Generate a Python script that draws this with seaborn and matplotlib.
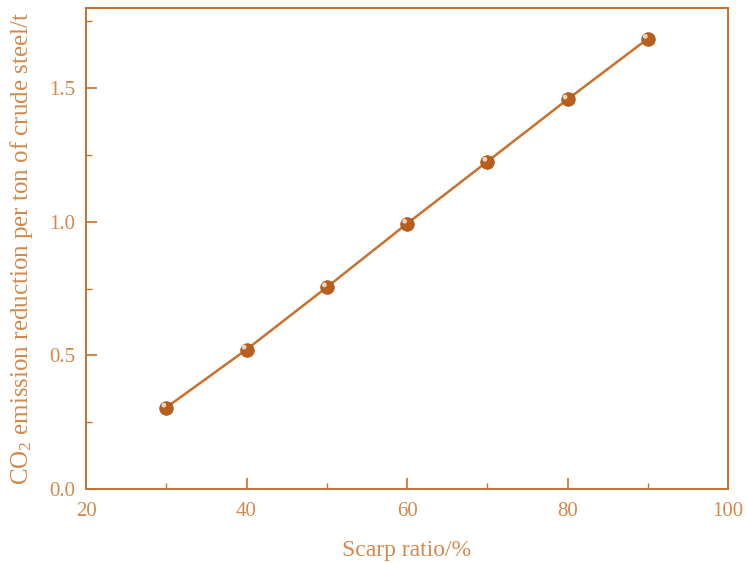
import numpy as np
import pandas as pd
import matplotlib
matplotlib.use("Agg")
import matplotlib.pyplot as plt
import seaborn as sns

# =========================
# DATA
# =========================
scrap_ratio = [30, 40, 50, 60, 70, 80, 90]
co2_reduction = [0.305, 0.522, 0.755, 0.993, 1.225, 1.458, 1.685]

x_ticks = [20, 40, 60, 80, 100]
y_ticks = [0.0, 0.5, 1.0, 1.5]

df = pd.DataFrame({"ratio": scrap_ratio, "co2": co2_reduction})

# =========================
# STYLE
# =========================
sns.set_style("ticks")
plt.rcParams["font.family"] = ["Liberation Serif", "DejaVu Serif"]
plt.rcParams["mathtext.fontset"] = "custom"
plt.rcParams["mathtext.rm"] = "Liberation Serif"
plt.rcParams["mathtext.default"] = "regular"

line_color = "#C8712E"
text_color = "#D4884A"

fig = plt.figure(figsize=(7.46, 5.63), dpi=100)
ax = fig.add_axes([0.1153, 0.1314, 0.8606, 0.8544])

sns.lineplot(data=df, x="ratio", y="co2", color=line_color, linewidth=1.8, ax=ax)
# sphere-like markers: dark ball plus a small highlight
sns.scatterplot(data=df, x="ratio", y="co2", color="#B65F1E", s=95,
                edgecolor="#A8541A", linewidth=0.6, zorder=3, ax=ax)
ax.scatter(df["ratio"] - 0.3, df["co2"] + 0.009, s=12, color="#F3D2B5",
           edgecolors="none", zorder=4)

# =========================
# AXES
# =========================
ax.set_xlim(20, 100)
ax.set_ylim(0, 1.8)
ax.set_xticks(x_ticks)
ax.set_yticks(y_ticks)
ax.set_xticks([30, 50, 70, 90], minor=True)
ax.set_yticks([0.25, 0.75, 1.25, 1.75], minor=True)
ax.set_yticklabels([f"{v:.1f}" for v in y_ticks])

ax.tick_params(which="major", direction="in", length=8, width=1.2,
               color=line_color, labelcolor=text_color, labelsize=15)
ax.tick_params(which="minor", direction="in", length=4, width=1.0,
               color=line_color)
ax.tick_params(axis="x", which="major", pad=9)
ax.tick_params(axis="y", which="major", pad=8)

for sp in ax.spines.values():
    sp.set_color(line_color)
    sp.set_linewidth(1.4)

ax.set_xlabel("Scarp ratio/%", color=text_color, fontsize=17, labelpad=14)
ax.set_ylabel("CO$_2$ emission reduction per ton of crude steel/t",
              color=text_color, fontsize=18, labelpad=10)

plt.savefig("out.png", dpi=100)
plt.close()
